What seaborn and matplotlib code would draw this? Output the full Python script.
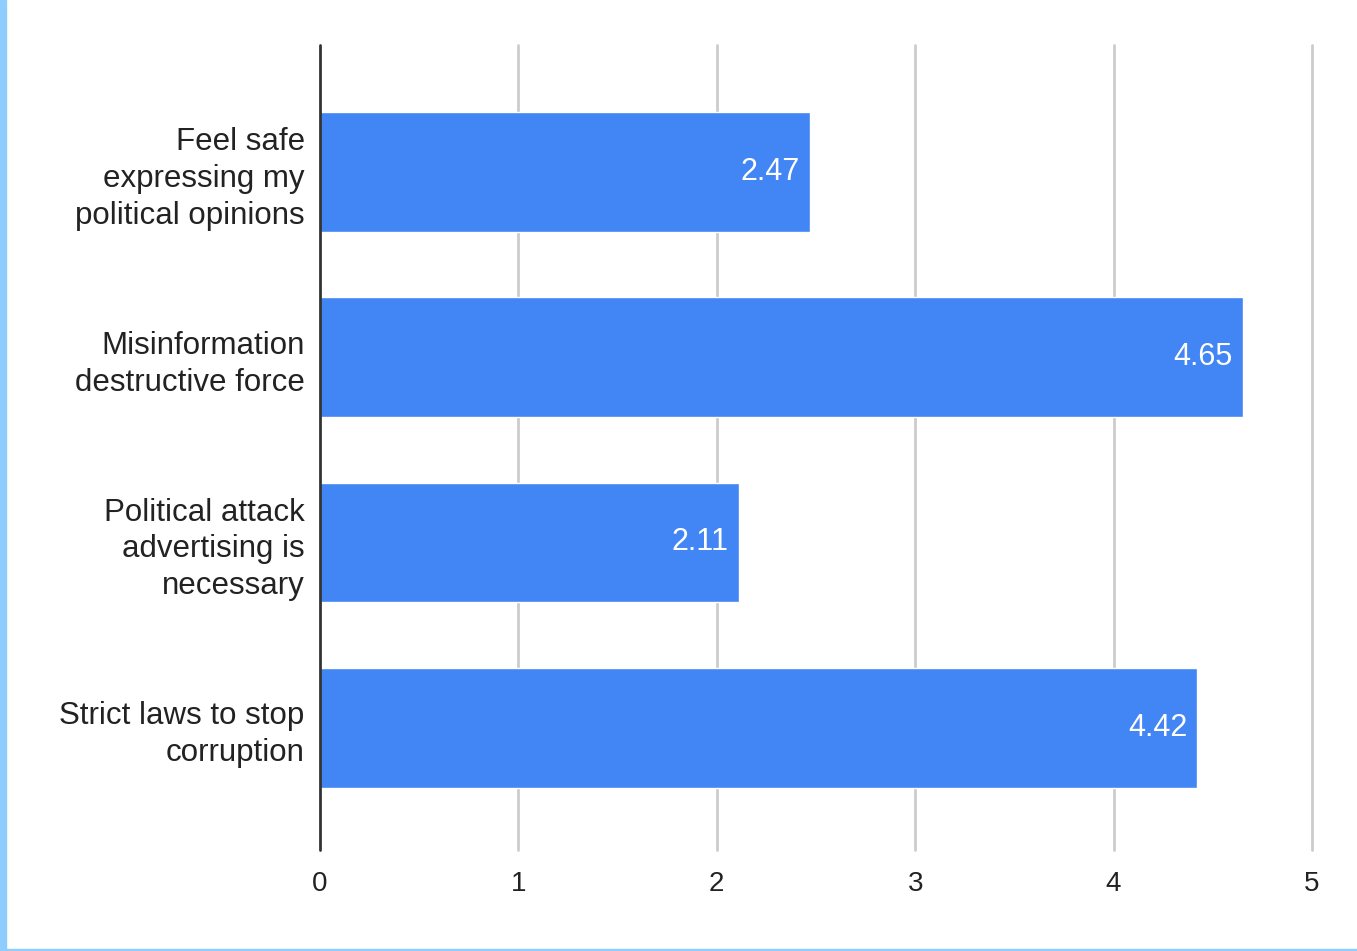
import matplotlib
matplotlib.use("Agg")
import matplotlib.pyplot as plt
from matplotlib.patches import Rectangle
import seaborn as sns
import pandas as pd

categories = [
    "Feel safe\nexpressing my\npolitical opinions",
    "Misinformation\ndestructive force",
    "Political attack\nadvertising is\nnecessary",
    "Strict laws to stop\ncorruption",
]
values = [2.47, 4.65, 2.11, 4.42]
x_ticks = [0, 1, 2, 3, 4, 5]

sns.set_theme(style="white")
plt.rcParams["font.family"] = ["Liberation Sans", "DejaVu Sans"]

df = pd.DataFrame({"category": categories, "value": values})

fig = plt.figure(figsize=(13.57, 9.51), dpi=100)
ax = fig.add_axes([320 / 1357, 1 - 850 / 951, 992 / 1357, 805 / 951])

sns.barplot(data=df, x="value", y="category", orient="h", color="#4285f4",
            saturation=1, width=0.647, ax=ax, zorder=3)

ax.set_xlim(0, 5)
ax.set_ylim(3.66, -0.685)
ax.set_xticks(x_ticks)
ax.set_xticklabels([str(t) for t in x_ticks], fontsize=20, color="#222222")
ax.tick_params(axis="x", length=0, pad=15)
ax.tick_params(axis="y", length=0, pad=11)
for lbl in ax.get_yticklabels():
    lbl.set_fontsize(22.5)
    lbl.set_color("#222222")
    lbl.set_linespacing(1.3)
ax.set_xlabel("")
ax.set_ylabel("")

for s in ax.spines.values():
    s.set_visible(False)

ax.grid(axis="y", visible=False)
for t in x_ticks[1:]:
    ax.axvline(t, color="#cccccc", linewidth=2, zorder=0, clip_on=False)
ax.axvline(0, color="#333333", linewidth=2, zorder=4, clip_on=False)

for i, v in enumerate(values):
    ax.text(v - 0.05, i, f"{v:.2f}", ha="right", va="center",
            color="white", fontsize=22, zorder=5)

# page frame accents
fig.patches.append(Rectangle((0, 0), 6 / 1357, 1, transform=fig.transFigure,
                             color="#8ecdfd", zorder=10))
fig.patches.append(Rectangle((0, 0), 1, 2 / 951, transform=fig.transFigure,
                             color="#8ecdfd", zorder=10))

fig.savefig("out.png", dpi=100, facecolor="white")
